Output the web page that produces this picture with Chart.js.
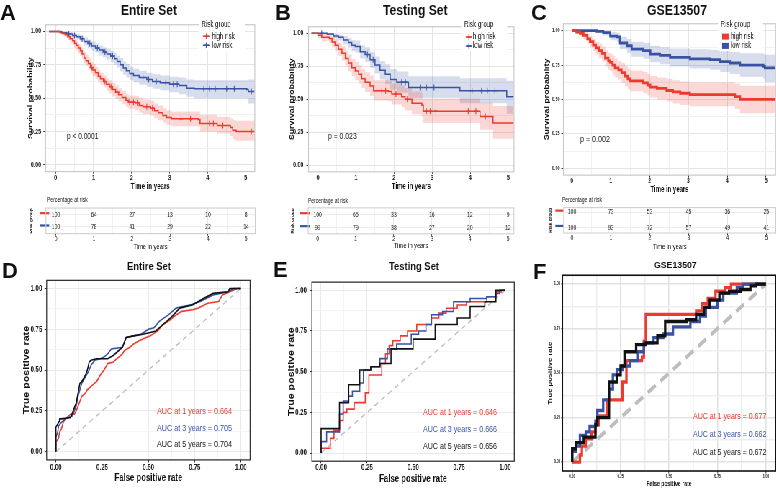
<!DOCTYPE html>
<html><head><meta charset="utf-8">
<script src="https://cdn.jsdelivr.net/npm/chart.js@4.4.1/dist/chart.umd.min.js"></script>
<style>
html,body{margin:0;padding:0;background:#fff;}
#page{position:relative;width:776px;height:488px;overflow:hidden;background:#fff;}
#sq{position:absolute;left:0;top:0;width:1078px;height:488px;transform:scaleX(0.72);transform-origin:0 0;}
#sq canvas{position:absolute;}
.t{position:absolute;white-space:nowrap;font-family:"Liberation Sans",Arial,sans-serif;line-height:1;transform-origin:0 50%;}
</style></head>
<body><div id="page"><div id="sq"></div></div>
<script>
// ================= DATA =================
// --- Panel A (Entire Set) KM ---
const kmA_hi_t  = [-0.17,0.10,0.18,0.25,0.32,0.38,0.45,0.50,0.55,0.60,0.65,0.70,0.75,0.80,0.86,0.92,0.98,1.05,1.12,1.18,1.26,1.34,1.42,1.50,1.58,1.66,1.75,1.85,1.92,2.10,2.20,2.30,2.50,2.60,2.70,2.82,2.92,3.05,3.75,3.80,4.25,4.60,4.66,4.75,5.24];
const kmA_hi_s  = [1.00,0.995,0.985,0.975,0.96,0.945,0.93,0.91,0.895,0.875,0.855,0.83,0.80,0.78,0.76,0.73,0.71,0.69,0.665,0.645,0.625,0.605,0.585,0.565,0.545,0.525,0.505,0.485,0.47,0.465,0.445,0.435,0.425,0.405,0.39,0.37,0.355,0.345,0.34,0.31,0.295,0.28,0.26,0.25,0.245];
const kmA_hi_up = [1.00,1.00,0.995,0.99,0.98,0.97,0.96,0.945,0.93,0.91,0.895,0.87,0.845,0.825,0.805,0.775,0.755,0.735,0.71,0.69,0.67,0.65,0.635,0.615,0.595,0.575,0.555,0.535,0.52,0.515,0.50,0.49,0.48,0.46,0.445,0.425,0.41,0.40,0.40,0.375,0.36,0.35,0.335,0.33,0.33];
const kmA_hi_lo = [1.00,0.985,0.97,0.955,0.935,0.915,0.90,0.875,0.86,0.835,0.815,0.79,0.76,0.74,0.715,0.685,0.665,0.645,0.62,0.60,0.58,0.555,0.535,0.515,0.495,0.475,0.455,0.435,0.42,0.41,0.39,0.38,0.37,0.35,0.335,0.315,0.30,0.29,0.285,0.25,0.235,0.215,0.19,0.18,0.17];
const kmA_lo_t  = [-0.17,0.15,0.30,0.45,0.55,0.65,0.75,0.85,0.95,1.05,1.15,1.25,1.35,1.45,1.55,1.62,1.70,1.78,1.86,1.95,2.05,2.20,2.40,2.55,2.75,3.00,3.25,3.45,3.65,5.03,5.07,5.24];
const kmA_lo_s  = [1,0.99,0.98,0.97,0.96,0.945,0.925,0.91,0.89,0.875,0.86,0.845,0.83,0.815,0.795,0.775,0.75,0.725,0.705,0.685,0.67,0.655,0.64,0.625,0.615,0.605,0.595,0.575,0.57,0.565,0.55,0.55];
const kmA_lo_up = [1,1,0.995,0.99,0.98,0.97,0.955,0.94,0.925,0.91,0.895,0.88,0.87,0.855,0.84,0.82,0.80,0.775,0.755,0.735,0.72,0.705,0.69,0.68,0.67,0.66,0.655,0.64,0.635,0.635,0.64,0.64];
const kmA_lo_lo = [1,0.98,0.965,0.95,0.94,0.92,0.895,0.875,0.855,0.84,0.82,0.805,0.79,0.77,0.75,0.73,0.70,0.675,0.655,0.635,0.62,0.60,0.585,0.57,0.56,0.545,0.53,0.51,0.50,0.495,0.46,0.46];
const cenA_hi_t = [0.95,1.30,1.46,1.62,1.95,2.05,2.15,2.40,2.55,3.30,3.55,4.05,4.15,4.40,5.15];
const cenA_hi_s = [0.73,0.625,0.585,0.545,0.47,0.47,0.465,0.435,0.425,0.345,0.345,0.31,0.31,0.295,0.25];
const cenA_lo_t = [0.35,0.50,0.70,0.90,1.10,1.30,1.50,2.30,2.45,2.65,2.90,3.10,3.20,3.90,4.05,4.20,4.50,4.70,5.15];
const cenA_lo_s = [0.98,0.97,0.945,0.91,0.875,0.845,0.815,0.655,0.64,0.625,0.615,0.605,0.605,0.57,0.57,0.57,0.57,0.57,0.55];
// --- Panel B (Testing Set) KM ---
const kmB_hi_t  = [-0.17,0.00,0.10,0.30,0.37,0.45,0.54,0.63,0.72,0.80,0.89,0.98,1.07,1.15,1.24,1.37,1.46,1.85,1.94,2.20,2.29,2.47,2.73,2.77,4.26,4.60,5.15];
const kmB_hi_s  = [1,0.985,0.97,0.96,0.935,0.91,0.88,0.85,0.81,0.775,0.74,0.715,0.69,0.655,0.63,0.60,0.565,0.56,0.54,0.52,0.50,0.47,0.455,0.41,0.37,0.32,0.32];
const kmB_hi_up = [1,1,0.995,0.99,0.975,0.955,0.93,0.905,0.87,0.84,0.805,0.785,0.76,0.73,0.705,0.68,0.645,0.64,0.62,0.605,0.585,0.56,0.545,0.505,0.475,0.45,0.45];
const kmB_hi_lo = [1,0.96,0.94,0.925,0.895,0.865,0.83,0.795,0.75,0.71,0.675,0.645,0.62,0.585,0.555,0.525,0.49,0.485,0.46,0.44,0.415,0.385,0.37,0.32,0.27,0.20,0.20];
const kmB_lo_t  = [-0.17,0.24,0.41,0.54,0.67,0.80,0.89,0.98,1.11,1.24,1.37,1.50,1.63,1.77,1.90,2.07,2.38,3.73,4.96,5.15];
const kmB_lo_s  = [1,0.995,0.98,0.97,0.95,0.93,0.91,0.90,0.86,0.84,0.80,0.76,0.72,0.69,0.65,0.63,0.59,0.565,0.52,0.52];
const kmB_lo_up = [1,1,0.995,0.99,0.98,0.965,0.95,0.945,0.91,0.895,0.86,0.825,0.79,0.765,0.73,0.71,0.675,0.66,0.64,0.64];
const kmB_lo_lo = [1,0.985,0.96,0.945,0.915,0.89,0.865,0.855,0.81,0.785,0.74,0.695,0.65,0.615,0.575,0.55,0.51,0.47,0.39,0.39];
const cenB_hi_t = [1.55,1.68,1.78,2.05,2.35,2.85,2.95,3.10,3.95,4.15,4.40];
const cenB_hi_s = [0.565,0.565,0.565,0.54,0.50,0.41,0.41,0.41,0.41,0.41,0.37];
const cenB_lo_t = [0.10,1.30,1.45,2.20,2.30,2.70,2.85,3.05,4.05,4.30,4.45,4.65];
const cenB_lo_s = [1.0,0.84,0.80,0.63,0.63,0.59,0.59,0.59,0.565,0.565,0.565,0.565];
// --- Panel C (GSE13507) KM ---
const kmC_hi_t  = [0,0.12,0.21,0.30,0.40,0.47,0.55,0.62,0.70,0.78,0.86,0.94,0.99,1.05,1.11,1.20,1.28,1.37,1.44,1.50,1.84,1.95,2.02,2.19,2.44,2.60,2.79,3.04,4.20,4.33,5.245];
const kmC_hi_s  = [1,0.99,0.98,0.965,0.94,0.92,0.895,0.875,0.855,0.835,0.80,0.78,0.77,0.75,0.73,0.715,0.695,0.67,0.65,0.635,0.62,0.605,0.59,0.58,0.565,0.555,0.545,0.535,0.52,0.50,0.50];
const kmC_hi_up = [1,1,1,0.99,0.975,0.96,0.94,0.92,0.905,0.885,0.855,0.84,0.83,0.815,0.795,0.78,0.765,0.745,0.725,0.71,0.70,0.685,0.67,0.66,0.65,0.64,0.63,0.625,0.615,0.60,0.60];
const kmC_hi_lo = [1,0.975,0.955,0.935,0.905,0.88,0.85,0.825,0.80,0.775,0.74,0.715,0.705,0.68,0.66,0.645,0.62,0.595,0.575,0.56,0.545,0.53,0.515,0.50,0.485,0.47,0.46,0.45,0.43,0.40,0.40];
const kmC_lo_t  = [0,0.64,0.81,0.99,1.16,1.24,1.42,1.54,1.84,2.02,2.27,2.53,3.04,3.56,3.82,4.07,4.33,4.93,4.97,5.245];
const kmC_lo_s  = [1,0.995,0.985,0.96,0.955,0.91,0.89,0.865,0.855,0.83,0.82,0.805,0.795,0.79,0.775,0.765,0.75,0.74,0.73,0.73];
const kmC_lo_up = [1,1,1,0.99,0.985,0.955,0.94,0.92,0.91,0.89,0.88,0.87,0.865,0.86,0.85,0.845,0.835,0.83,0.825,0.825];
const kmC_lo_lo = [1,0.985,0.965,0.93,0.92,0.865,0.84,0.81,0.795,0.77,0.755,0.74,0.725,0.715,0.70,0.685,0.665,0.65,0.625,0.625];
// --- Risk tables (percentage at risk) ---
const riskTimes = [0,1,2,3,4,5];
const riskA_hi = [100,64,27,13,10,8];
const riskA_lo = [100,78,41,29,22,14];
const riskB_hi = [100,65,33,16,12,9];
const riskB_lo = [99,79,38,27,20,12];
const riskC_hi = [100,73,53,45,36,25];
const riskC_lo = [100,93,72,57,49,41];
// --- ROC curves (FPR / TPR) ---
const rocD1_f = [0,0,0.014,0.02,0.03,0.04,0.05,0.08,0.1,0.11,0.12,0.14,0.16,0.17,0.19,0.21,0.22,0.24,0.26,0.28,0.31,0.33,0.36,0.37,0.40,0.42,0.45,0.47,0.51,0.55,0.57,0.58,0.62,0.64,0.68,0.74,0.77,0.82,0.88,0.9,0.94,0.98,1];
const rocD1_t = [0,0.06,0.08,0.12,0.14,0.18,0.2,0.23,0.23,0.25,0.28,0.34,0.36,0.38,0.40,0.42,0.43,0.47,0.5,0.54,0.55,0.57,0.6,0.62,0.64,0.66,0.68,0.69,0.71,0.74,0.77,0.78,0.81,0.83,0.86,0.87,0.88,0.91,0.92,0.96,0.98,1,1];
const rocD3_f = [0,0,0.01,0.015,0.03,0.05,0.09,0.1,0.11,0.12,0.13,0.14,0.16,0.18,0.19,0.21,0.24,0.26,0.28,0.30,0.36,0.38,0.42,0.46,0.5,0.53,0.56,0.61,0.65,0.73,0.78,0.85,0.93,0.96,1];
const rocD3_t = [0,0.09,0.12,0.16,0.18,0.2,0.22,0.25,0.28,0.34,0.38,0.42,0.46,0.5,0.53,0.56,0.57,0.58,0.6,0.63,0.64,0.70,0.71,0.72,0.75,0.76,0.8,0.84,0.88,0.9,0.92,0.96,0.98,1,1];
const rocD5_f = [0,0,0.02,0.02,0.08,0.1,0.11,0.13,0.14,0.15,0.16,0.17,0.18,0.19,0.22,0.28,0.31,0.34,0.36,0.38,0.42,0.47,0.51,0.54,0.58,0.62,0.67,0.74,0.80,0.85,0.93,0.94,1];
const rocD5_t = [0,0.15,0.19,0.2,0.21,0.27,0.3,0.42,0.43,0.45,0.47,0.5,0.55,0.56,0.57,0.57,0.59,0.62,0.64,0.70,0.71,0.72,0.73,0.74,0.78,0.82,0.88,0.9,0.94,0.97,0.98,1,1];
const rocE1_f = [0,0,0.05,0.05,0.07,0.07,0.10,0.10,0.12,0.12,0.14,0.14,0.18,0.18,0.24,0.24,0.26,0.26,0.33,0.33,0.35,0.35,0.37,0.37,0.39,0.39,0.43,0.43,0.47,0.47,0.52,0.52,0.60,0.60,0.64,0.64,0.68,0.68,0.74,0.74,0.79,0.79,0.90,0.90,0.95,0.95,0.98,0.98,1];
const rocE1_t = [0,0.03,0.03,0.09,0.09,0.14,0.14,0.20,0.20,0.25,0.25,0.27,0.27,0.31,0.31,0.37,0.37,0.48,0.48,0.55,0.55,0.61,0.61,0.66,0.66,0.69,0.69,0.72,0.72,0.75,0.75,0.79,0.79,0.83,0.83,0.86,0.86,0.89,0.89,0.91,0.91,0.93,0.93,0.96,0.96,0.99,0.99,1,1];
const rocE3_f = [0,0,0.03,0.03,0.10,0.10,0.12,0.12,0.15,0.15,0.17,0.17,0.21,0.21,0.23,0.23,0.27,0.27,0.32,0.32,0.36,0.36,0.41,0.41,0.49,0.49,0.53,0.53,0.57,0.57,0.60,0.60,0.66,0.66,0.72,0.72,0.81,0.81,0.90,0.90,0.95,0.95,0.97,0.97,1];
const rocE3_t = [0,0.07,0.07,0.13,0.13,0.24,0.24,0.32,0.32,0.35,0.35,0.38,0.38,0.43,0.43,0.51,0.51,0.53,0.53,0.58,0.58,0.64,0.64,0.67,0.67,0.73,0.73,0.75,0.75,0.79,0.79,0.85,0.85,0.87,0.87,0.93,0.93,0.95,0.95,0.96,0.96,0.98,0.98,1,1];
const rocE5_f = [0,0,0.10,0.10,0.15,0.15,0.21,0.21,0.27,0.27,0.32,0.32,0.38,0.38,0.50,0.50,0.62,0.62,0.74,0.74,0.81,0.81,0.89,0.89,0.95,0.95,1];
const rocE5_t = [0,0.15,0.15,0.31,0.31,0.42,0.42,0.51,0.51,0.53,0.53,0.55,0.55,0.64,0.64,0.70,0.70,0.79,0.79,0.83,0.83,0.90,0.90,0.93,0.93,1,1];
const rocF1_f = [0,0.04,0.04,0.05,0.05,0.07,0.07,0.10,0.10,0.12,0.12,0.14,0.14,0.18,0.18,0.26,0.26,0.28,0.28,0.36,0.36,0.37,0.37,0.38,0.38,0.64,0.64,0.67,0.67,0.70,0.70,0.74,0.74,0.79,0.79,0.82,0.82,1];
const rocF1_t = [0,0,0.04,0.04,0.09,0.09,0.13,0.13,0.17,0.17,0.21,0.21,0.26,0.26,0.35,0.35,0.45,0.45,0.57,0.57,0.59,0.59,0.68,0.68,0.83,0.83,0.85,0.85,0.89,0.89,0.92,0.92,0.96,0.96,0.98,0.98,1,1];
const rocF3_f = [0,0,0.02,0.02,0.04,0.04,0.07,0.07,0.09,0.09,0.12,0.12,0.13,0.13,0.16,0.16,0.19,0.19,0.21,0.21,0.23,0.23,0.26,0.26,0.30,0.30,0.34,0.34,0.37,0.37,0.42,0.42,0.47,0.47,0.52,0.52,0.61,0.61,0.66,0.66,0.69,0.69,0.75,0.75,0.78,0.78,0.85,0.85,0.88,0.88,1];
const rocF3_t = [0,0.06,0.06,0.09,0.09,0.15,0.15,0.17,0.17,0.20,0.20,0.23,0.23,0.29,0.29,0.35,0.35,0.41,0.41,0.49,0.49,0.52,0.52,0.54,0.54,0.57,0.57,0.62,0.62,0.67,0.67,0.70,0.70,0.72,0.72,0.76,0.76,0.79,0.79,0.82,0.82,0.87,0.87,0.91,0.91,0.95,0.95,0.98,0.98,1,1];
const rocF5_f = [0,0,0.02,0.02,0.06,0.06,0.12,0.12,0.13,0.13,0.19,0.19,0.23,0.23,0.25,0.25,0.27,0.27,0.33,0.33,0.38,0.38,0.44,0.44,0.48,0.48,0.59,0.59,0.64,0.64,0.68,0.68,0.71,0.71,0.76,0.76,0.81,0.81,0.87,0.87,0.92,0.92,0.95,0.95,1];
const rocF5_t = [0,0.075,0.075,0.11,0.11,0.14,0.14,0.21,0.21,0.25,0.25,0.45,0.45,0.49,0.49,0.54,0.54,0.62,0.62,0.66,0.66,0.67,0.67,0.71,0.71,0.79,0.79,0.80,0.80,0.83,0.83,0.87,0.87,0.91,0.91,0.95,0.95,0.96,0.96,0.97,0.97,0.99,0.99,1,1];
const diag_f = [0,1];
const diag_t = [0,1];
// --- text labels ---
const aucD = ['AUC at 1 years = 0.664','AUC at 3 years = 0.705','AUC at 5 years = 0.704'];
const aucE = ['AUC at 1 years = 0.646','AUC at 3 years = 0.666','AUC at 5 years = 0.656'];
const aucF = ['AUC at 1 years = 0.677','AUC at 3 years = 0.662','AUC at 5 years = 0.672'];
const pvals = ['p < 0.0001','p = 0.023','p = 0.002'];
const groups = ['high risk','low risk'];

// ================= DRAWING =================
const K = 0.72;
const FONT = '"Liberation Sans", Arial, Helvetica, sans-serif';
const RED = '#EC3A2D', BLUE = '#3953A4', BLACK = '#111111';
const RED_BAND = 'rgba(236,58,45,0.20)', BLUE_BAND = 'rgba(57,83,164,0.20)';
const page = document.getElementById('page');
const sq = document.getElementById('sq');
const DECO = {};

function pts(xs, ys) { return xs.map((x, i) => ({x: x, y: ys[i]})); }
function isMajor(v, m) { return Math.abs(v / m - Math.round(v / m)) < 1e-6; }

function axis(o) {
  return {
    type: 'linear', min: o.min, max: o.max, position: o.pos,
    ticks: { stepSize: o.step, includeBounds: false, autoSkip: false, maxRotation: 0, minRotation: 0,
      font: {family: FONT, size: o.ts, weight: o.tb ? 'bold' : 'normal', lineHeight: 1},
      color: '#1a1a1a', padding: o.pad,
      callback: (v) => (o.fmt && isMajor(v, o.major)) ? o.fmt(v) : '' },
    grid: { color: c => (c.tick && isMajor(c.tick.value, o.major)) ? o.gMaj : o.gMin,
      lineWidth: o.gW || 1, tickLength: o.tl, drawTicks: true, tickWidth: 1,
      tickColor: c => (o.tickOn !== false && c.tick && isMajor(c.tick.value, o.major)) ? '#333' : 'rgba(0,0,0,0)' },
    border: { display: false },
    title: { display: !!o.title, text: o.title || '', color: '#111', padding: 0,
      font: {family: FONT, size: o.titleSize || 10, weight: o.titleBold === false ? 'normal' : 'bold', lineHeight: 1} }
  };
}

function mk(area, yW, xH, datasets, xAx, yAx, key, deco) {
  const cl = area.l - yW;
  const ch = Math.ceil(area.b + xH - (area.t - 3));
  const ct = area.b + xH - ch;
  const padT = area.t - ct;
  const cw = Math.ceil((area.r + 3 - cl) / K);
  const padR = cw - (area.r - cl) / K;
  const c = document.createElement('canvas');
  c.width = cw; c.height = ch;
  c.style.left = (cl / K) + 'px'; c.style.top = ct + 'px';
  c.style.width = cw + 'px'; c.style.height = ch + 'px';
  sq.appendChild(c);
  deco.ox = cl; deco.oy = ct;
  DECO[key] = deco;
  xAx.afterFit = s => { s.height = xH; };
  yAx.afterFit = s => { s.width = yW / K; };
  return new Chart(c, {
    type: 'scatter',
    data: { datasets: datasets },
    options: {
      responsive: false, animation: false, devicePixelRatio: 1, events: [],
      layout: { padding: { left: 0, top: padT, right: padR, bottom: 0 } },
      plugins: { legend: {display: false}, tooltip: {enabled: false}, deco: {key: key} },
      elements: { point: { radius: 0 } },
      scales: { x: xAx, y: yAx }
    }
  });
}

Chart.register({
  id: 'deco',
  afterDatasetsDraw(chart, args, opts) {
    const d = DECO[opts.key]; if (!d) return;
    const ctx = chart.ctx, a = chart.chartArea;
    const X = x => (x - d.ox) / K, Y = y => y - d.oy;
    ctx.save();
    if (d.table) {
      ctx.font = d.tsize + 'px ' + FONT; ctx.fillStyle = '#1a1a1a';
      ctx.textAlign = 'center'; ctx.textBaseline = 'middle';
      d.table.forEach((vals, di) => {
        chart.getDatasetMeta(di).data.forEach((el, j) => ctx.fillText(String(vals[j]), el.x, el.y + 0.5));
      });
      d.dashes.forEach(ds => {
        const y = chart.scales.y.getPixelForValue(ds.row) - 1.5;
        ctx.fillStyle = ds.color; ctx.fillRect(X(d.dx0), y - 1, (d.dx1 - d.dx0) / K, 2.2);
      });
    }
    if (d.border) {
      ctx.strokeStyle = d.border; ctx.lineWidth = d.bw;
      ctx.strokeRect(a.left, a.top, a.right - a.left, a.bottom - a.top);
    }
    if (d.legend) {
      const L = d.legend;
      ctx.fillStyle = '#fff';
      ctx.fillRect(X(L.bg[0]), Y(L.bg[1]), (L.bg[2] - L.bg[0]) / K, L.bg[3] - L.bg[1]);
      ctx.font = L.size + 'px ' + FONT; ctx.textBaseline = 'middle'; ctx.textAlign = 'left';
      ctx.fillStyle = '#111';
      ctx.fillText('Risk group', X(L.tx), Y(L.ty));
      groups.forEach((g, i) => {
        const y = Y(L.ys[i]); const col = i === 0 ? RED : BLUE;
        ctx.fillStyle = '#111'; ctx.fillText(g, X(L.lx), y);
        if (L.square) {
          ctx.fillStyle = col; ctx.fillRect(X(L.m0), y - 3, (L.m1 - L.m0) / K, 6);
        } else {
          ctx.strokeStyle = col; ctx.lineWidth = 1.4;
          ctx.beginPath(); ctx.moveTo(X(L.m0), y); ctx.lineTo(X(L.m1), y); ctx.stroke();
          const cx = X((L.m0 + L.m1) / 2);
          ctx.beginPath(); ctx.moveTo(cx - 3.5, y); ctx.lineTo(cx + 3.5, y);
          ctx.moveTo(cx, y - 2.8); ctx.lineTo(cx, y + 2.8); ctx.stroke();
        }
      });
    }
    ctx.restore();
  }
});

function txt(s, x, cy, size, o) {
  o = o || {};
  const el = document.createElement('div');
  el.className = 't'; el.textContent = s;
  el.style.fontSize = size + 'px';
  el.style.fontWeight = o.bold ? 'bold' : 'normal';
  el.style.color = o.color || '#111';
  page.appendChild(el);
  const w = el.getBoundingClientRect().width;
  const tw = o.w || w;
  const left = o.center ? x - tw / 2 : (o.right ? x - tw : x);
  el.style.left = left + 'px';
  el.style.top = (cy - size / 2) + 'px';
  if (o.w) el.style.transform = 'scaleX(' + (o.w / w) + ')';
}

// ---- KM panels ----
function kmDatasets(hiT, hiS, hiU, hiL, loT, loS, loU, loL, cHiT, cHiS, cLoT, cLoS, lw) {
  return [
    {data: pts(hiT, hiS), showLine: true, stepped: true, borderColor: RED, borderWidth: lw, pointRadius: 0, fill: false},
    {data: pts(loT, loS), showLine: true, stepped: true, borderColor: BLUE, borderWidth: lw, pointRadius: 0, fill: false},
    {data: cHiT ? pts(cHiT, cHiS) : [], showLine: false, pointStyle: 'cross', pointRadius: 3, pointBorderWidth: 1.1, pointBorderColor: RED, pointBackgroundColor: RED},
    {data: cLoT ? pts(cLoT, cLoS) : [], showLine: false, pointStyle: 'cross', pointRadius: 3, pointBorderWidth: 1.1, pointBorderColor: BLUE, pointBackgroundColor: BLUE},
    {data: pts(hiT, hiU), showLine: true, stepped: true, borderColor: 'rgba(0,0,0,0)', borderWidth: 1, pointRadius: 0, fill: false},
    {data: pts(hiT, hiL), showLine: true, stepped: true, borderColor: 'rgba(0,0,0,0)', borderWidth: 1, pointRadius: 0, fill: '-1', backgroundColor: RED_BAND},
    {data: pts(loT, loU), showLine: true, stepped: true, borderColor: 'rgba(0,0,0,0)', borderWidth: 1, pointRadius: 0, fill: false},
    {data: pts(loT, loL), showLine: true, stepped: true, borderColor: 'rgba(0,0,0,0)', borderWidth: 1, pointRadius: 0, fill: '-1', backgroundColor: BLUE_BAND}
  ];
}
const fmtInt = v => String(Math.round(v));
const fmt2 = v => v.toFixed(2);
const KMG = {gMaj: '#E4E4E4', gMin: '#F1F1F1'};

function kmPanel(key, area, yW, xH, xmin, xmax, ds, p) {
  const xAx = axis(Object.assign({min: xmin, max: xmax, pos: 'bottom', step: 0.5, major: 1, fmt: fmtInt, ts: p.xts, tb: true, tl: p.xtl, pad: 0, title: 'Time in years', titleSize: p.xTitle}, KMG));
  const yAx = axis(Object.assign({min: -0.05, max: 1.05, pos: 'left', step: 0.125, major: 0.25, fmt: fmt2, ts: p.yts, tb: true, tl: 3, pad: p.ypad, title: 'Survival probability', titleSize: 8.8}, KMG));
  mk(area, yW, xH, ds, xAx, yAx, key, {border: '#C9C9C9', bw: 1.2, legend: p.legend});
}

kmPanel('A', {l: 45.7, t: 22.2, r: 255, b: 171.8}, 18.2, 19.45, -0.262, 5.24,
  kmDatasets(kmA_hi_t, kmA_hi_s, kmA_hi_up, kmA_hi_lo, kmA_lo_t, kmA_lo_s, kmA_lo_up, kmA_lo_lo, cenA_hi_t, cenA_hi_s, cenA_lo_t, cenA_lo_s, 1.5),
  {xts: 7.8, xtl: 2, yts: 7.5, ypad: 3, xTitle: 8.5,
   legend: {bg: [199, 19, 245, 51], tx: 201.7, ty: 25, lx: 212, ys: [36.5, 45.5], m0: 203, m1: 210, size: 8.5}});
kmPanel('B', {l: 308.3, t: 22.2, r: 514, b: 171.8}, 19.8, 19.15, -0.247, 5.152,
  kmDatasets(kmB_hi_t, kmB_hi_s, kmB_hi_up, kmB_hi_lo, kmB_lo_t, kmB_lo_s, kmB_lo_up, kmB_lo_lo, cenB_hi_t, cenB_hi_s, cenB_lo_t, cenB_lo_s, 1.5),
  {xts: 7.8, xtl: 2, yts: 7.5, ypad: 4, xTitle: 8.5,
   legend: {bg: [461, 19, 507, 51], tx: 464, ty: 25, lx: 472.7, ys: [37, 46], m0: 465.5, m1: 472, size: 8.5}});
kmPanel('C', {l: 563.3, t: 22.35, r: 775.5, b: 175.25}, 19.8, 18.85, -0.216, 5.245,
  kmDatasets(kmC_hi_t, kmC_hi_s, kmC_hi_up, kmC_hi_lo, kmC_lo_t, kmC_lo_s, kmC_lo_up, kmC_lo_lo, null, null, null, null, 2.8),
  {xts: 7, xtl: 2.5, yts: 5.5, ypad: 2, xTitle: 8.3,
   legend: {bg: [718, 19, 763, 51], tx: 720.7, ty: 25, lx: 730.7, ys: [36.7, 46], m0: 722, m1: 728.5, size: 8.5, square: true}});

// ---- Risk tables ----
function tablePanel(key, area, yW, xH, xmin, xmax, ymin, ymax, hi, lo, dx0, dx1, tsize) {
  const xAx = axis({min: xmin, max: xmax, pos: 'bottom', step: 0.5, major: 1, fmt: fmtInt, ts: 7, tb: false, tl: 2, pad: 0,
    title: 'Time in years', titleSize: 7.9, titleBold: false, gMaj: '#E6E6E6', gMin: '#F2F2F2'});
  const yAx = axis({min: ymin, max: ymax, pos: 'left', step: 0.5, major: 1, fmt: null, ts: 6, tb: false, tl: 0, pad: 0, tickOn: false,
    title: 'Risk group', titleSize: 4.8, gMaj: '#ECECEC', gMin: 'rgba(0,0,0,0)'});
  const ds = [
    {data: riskTimes.map(t => ({x: t, y: 2})), pointRadius: 0},
    {data: riskTimes.map(t => ({x: t, y: 1})), pointRadius: 0}
  ];
  mk(area, yW, xH, ds, xAx, yAx, key, {border: '#CFCFCF', bw: 1.1, table: [hi, lo], tsize: tsize,
    dx0: dx0, dx1: dx1, dashes: [{row: 2, color: RED}, {row: 1, color: BLUE}]});
}
tablePanel('TA', {l: 45.7, t: 207.7, r: 255, b: 233.3}, 16.4, 17.35, -0.262, 5.24, 0.45, 2.53, riskA_hi, riskA_lo, 40, 49, 7);
tablePanel('TB', {l: 308.3, t: 207.5, r: 514, b: 233.5}, 17.3, 16.15, -0.247, 5.152, 0.515, 2.52, riskB_hi, riskB_lo, 300, 310, 7);
tablePanel('TC', {l: 563.3, t: 207.3, r: 775.5, b: 232.7}, 15.0, 18.0, -0.216, 5.245, 0.63, 2.29, riskC_hi, riskC_lo, 555, 563.3, 7);

// ---- ROC panels ----
function rocDatasets(f1, t1, f3, t3, f5, t5, lw, dashW, dash) {
  return [
    {data: pts(f5, t5), showLine: true, borderColor: BLACK, borderWidth: lw, pointRadius: 0, borderJoinStyle: 'miter'},
    {data: pts(f3, t3), showLine: true, borderColor: BLUE, borderWidth: lw, pointRadius: 0, borderJoinStyle: 'miter'},
    {data: pts(f1, t1), showLine: true, borderColor: RED, borderWidth: lw, pointRadius: 0, borderJoinStyle: 'miter'},
    {data: pts(diag_f, diag_t), showLine: true, borderColor: '#BDBDBD', borderWidth: dashW, borderDash: dash, pointRadius: 0}
  ];
}
function rocPanel(key, area, yW, xH, ds, p) {
  const g = {gMaj: p.gMaj, gMin: p.gMin, gW: p.gW};
  const xAx = axis(Object.assign({min: -0.05, max: 1.05, pos: 'bottom', step: 0.125, major: 0.25, fmt: fmt2, ts: p.ts, tb: true, tl: p.xtl, pad: p.xpad, title: 'False positive rate', titleSize: p.xTitle}, g));
  const yAx = axis(Object.assign({min: -0.05, max: 1.05, pos: 'left', step: 0.125, major: 0.25, fmt: fmt2, ts: p.ts, tb: true, tl: p.ytl, pad: p.ypad, title: 'True positive rate', titleSize: p.yTitle}, g));
  mk(area, yW, xH, ds, xAx, yAx, key, {border: p.border, bw: p.bw});
}
rocPanel('D', {l: 46.45, t: 276.7, r: 249.95, b: 460}, 23.6, 23.1,
  rocDatasets(rocD1_f, rocD1_t, rocD3_f, rocD3_t, rocD5_f, rocD5_t, 1.6, 1.4, [6, 5]),
  {gMaj: '#EAEAEA', gMin: '#F4F4F4', gW: 1, ts: 8.3, xtl: 2.5, xpad: 1, ytl: 3, ypad: 3.2, xTitle: 10.8, yTitle: 10.7, border: '#333', bw: 1.3});
rocPanel('E', {l: 311.8, t: 278.4, r: 514.2, b: 461.6}, 23.9, 22.8,
  rocDatasets(rocE1_f, rocE1_t, rocE3_f, rocE3_t, rocE5_f, rocE5_t, 1.6, 1.4, [6, 5]),
  {gMaj: '#EAEAEA', gMin: '#F4F4F4', gW: 1, ts: 8.3, xtl: 2, xpad: 0, ytl: 3, ypad: 4, xTitle: 10.8, yTitle: 10.7, border: '#333', bw: 1.3});
rocPanel('F', {l: 562.6, t: 274.8, r: 775.7, b: 470.6}, 15.3, 17.0,
  rocDatasets(rocF1_f, rocF1_t, rocF3_f, rocF3_t, rocF5_f, rocF5_t, 3.3, 4, [13, 8]),
  {gMaj: '#E2E2E2', gMin: '#EEEEEE', gW: 1.6, ts: 4.5, xtl: 2.5, xpad: 1.3, ytl: 2, ypad: 1, xTitle: 7.2, yTitle: 7.6, border: '#111', bw: 1.6});

// ---- HTML text: panel letters, titles, annotations ----
txt('A', 0, 12.5, 22, {bold: true});
txt('B', 275, 12.5, 22, {bold: true});
txt('C', 531, 12.5, 22, {bold: true});
txt('D', 2, 271, 22, {bold: true});
txt('E', 273, 269.5, 22, {bold: true});
txt('F', 533, 271.5, 22, {bold: true});

txt('Entire Set', 148.7, 10, 14, {bold: true, center: true, w: 56});
txt('Testing Set', 415, 10, 14, {bold: true, center: true, w: 64.6});
txt('GSE13507', 676.7, 10, 14, {bold: true, center: true, w: 60});
txt('Entire Set', 148.7, 266, 11.6, {bold: true, center: true, w: 44});
txt('Testing Set', 414, 266, 11.6, {bold: true, center: true, w: 50});
txt('GSE13507', 675.3, 265, 8.5, {bold: true, center: true, w: 42.7});

txt(pvals[0], 66.7, 136.7, 9.3, {w: 31.3});
txt(pvals[1], 328.3, 137, 9.3, {w: 28.7});
txt(pvals[2], 580, 140, 9.3, {w: 30});

txt('Percentage at risk', 46.7, 199.3, 7, {w: 40.7});
txt('Percentage at risk', 308.3, 200, 7, {w: 40});
txt('Percentage at risk', 561.7, 199, 7, {w: 40});

const aucCols = [RED, BLUE, BLACK];
[411, 427.7, 443.7].forEach((y, i) => txt(aucD[i], 156.7, y, 9.6, {w: 75, color: aucCols[i]}));
[412, 429, 445.7].forEach((y, i) => txt(aucE[i], 423.3, y, 9.6, {w: 74, color: aucCols[i]}));
[416, 433.7, 451.7].forEach((y, i) => txt(aucF[i], 692.7, y, 9.6, {w: 73.3, color: aucCols[i]}));
</script>
</body></html>
